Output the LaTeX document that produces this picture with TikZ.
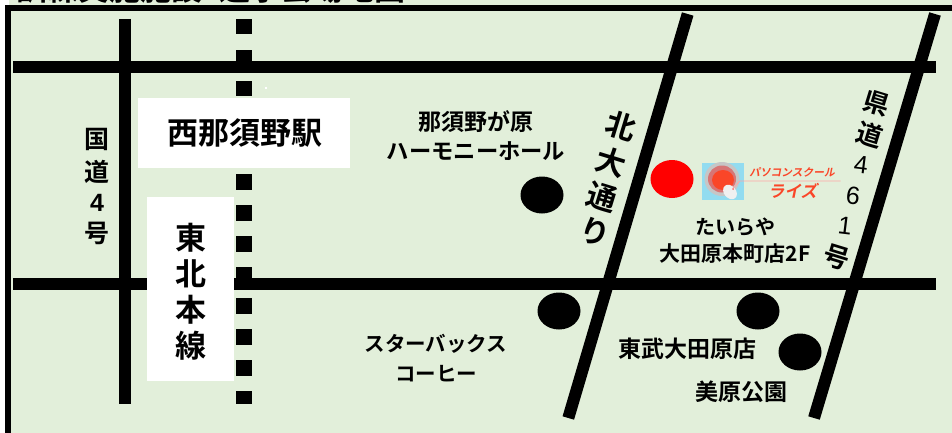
\documentclass[tikz,border=0pt]{standalone}
\usepackage{fontspec}
\setmainfont{Noto Sans CJK JP}[BoldFont={Noto Sans CJK JP Bold}]
\newfontfamily\arialf{Liberation Sans}
\newfontfamily\slantf{Noto Sans CJK JP Bold}[FakeSlant=0.2]
\usetikzlibrary{shapes.geometric}
\definecolor{bggreen}{RGB}{226,239,218}
\definecolor{logosky}{RGB}{146,220,240}
\definecolor{logored}{RGB}{250,70,40}
\tikzset{
  px/.style={x=1pt,y=-1pt},
  road/.style={line width=12pt,black,line cap=butt},
  lbl/.style={font=\bfseries\fontsize{23}{23}\selectfont,inner sep=0pt,text=black},
  vert/.style={font=\bfseries\fontsize{25}{25}\selectfont,inner sep=0pt,text=black},
  slantlbl/.style={font=\bfseries\fontsize{30}{30}\selectfont,inner sep=0pt,text=black,rotate=-17},
  prefl/.style={font=\bfseries\fontsize{26}{26}\selectfont,inner sep=0pt,text=black,rotate=-17},
  prefn/.style={font=\arialf\fontsize{25}{25}\selectfont,inner sep=0pt,text=black,rotate=-7},
  whitebox/.style={fill=white,draw=none},
  spot/.style={ellipse,fill=black,minimum width=43pt,minimum height=37pt,inner sep=0pt},
  tie/.style={fill=black},
}
\begin{document}
\begin{tikzpicture}[px]
\useasboundingbox (0,0) rectangle (952,433);
\fill[white] (0,0) rectangle (952,433);
\fill[bggreen] (9,0) rectangle (952,433);
\node[anchor=base west,inner sep=0pt,font=\bfseries\fontsize{31}{31}\selectfont] (title) at (16,1) {訓練実施施設\hspace{0.55em}通学会場地図};
\fill[black] (5,5) rectangle (952,433);
\fill[bggreen] (11,11) rectangle (952,433);
\coordinate (wa) at (13,67.5); \coordinate (wb) at (935.7,67.5);
\coordinate (ha) at (13,284); \coordinate (hb) at (935.5,284);
\coordinate (ka) at (124.5,19); \coordinate (kb) at (124.5,404);
\coordinate (da) at (687.7,14); \coordinate (db) at (568.3,418);
\coordinate (ea) at (935,14); \coordinate (eb) at (814,418);
\draw[road] (ka) -- (kb);
\draw[road] (wa) -- (wb);
\draw[road] (ha) -- (hb);
\draw[road] (da) -- (db);
\draw[road] (ea) -- (eb);
\foreach \y in {19,50,81,174,205,236,267,298,329,360}
  \fill[tie] (236,\y) rectangle (251.5,\y+15.5);
\fill[tie] (236,391) rectangle (251.5,404);
\fill[white] (265,87) rectangle (267,89);
\node[whitebox,minimum width=212pt,minimum height=70pt] (st) at (244,133) {};
\node[lbl,font=\bfseries\fontsize{31}{31}\selectfont] (stl) at (245,133) {西那須野駅};
\node[whitebox,minimum width=87pt,minimum height=184pt] (line) at (190.5,289) {};
\node[lbl,align=center,font=\bfseries\fontsize{31}{36}\selectfont] (linel) at (191,292) {東\\北\\本\\線};
\node[vert] (ko1) at (97,139) {国};
\node[vert] (ko2) at (97,172) {道};
\node[vert,font=\bfseries\arialf\fontsize{25}{25}\selectfont] (ko3) at (97,203) {4};
\node[vert] (ko4) at (97,233) {号};
\node[lbl] (har1) at (476,122) {那須野が原};
\node[lbl,font=\bfseries\fontsize{22.3}{23}\selectfont] (har2) at (476,151) {ハーモニーホール};
\node[lbl,font=\bfseries\fontsize{20.5}{23}\selectfont] (sta1) at (436,344) {スターバックス};
\node[lbl,font=\bfseries\fontsize{20.5}{23}\selectfont] (sta2) at (436,374) {コーヒー};
\node[lbl] (tob) at (687,349) {東武大田原店};
\node[lbl] (mih) at (741,392) {美原公園};
\node[lbl,font=\bfseries\fontsize{20}{23}\selectfont] (tai1) at (735,227) {たいらや};
\node[lbl,font=\bfseries\fontsize{21}{23}\selectfont] (tai2) at (735,254) {大田原本町店2F};
\node[slantlbl] (ki1) at (621,126) {北};
\node[slantlbl] (ki2) at (611,162) {大};
\node[slantlbl] (ki3) at (602,197) {通};
\node[slantlbl] (ki4) at (595,232) {り};
\node[prefl] (k1) at (877,103) {県};
\node[prefl] (k2) at (870,135) {道};
\node[prefn] (k3) at (861,165) {4};
\node[prefn] (k4) at (853,196) {6};
\node[prefn] (k5) at (845,226) {1};
\node[prefl] (k6) at (837,257) {号};
\node[spot] (s1) at (542,195) {};
\node[spot] (s2) at (559,311) {};
\node[spot] (s3) at (758,311) {};
\node[spot] (s4) at (800,352) {};
\node[ellipse,fill=red,minimum width=43pt,minimum height=38pt,inner sep=0pt] (goal) at (672,179) {};
\fill[logosky] (702.3,162.5) rectangle (744,200);
\fill[gray!45] (722,179) ellipse (17.5pt and 17pt);
\fill[red!55!gray!70] (722,179) ellipse (14pt and 13.5pt);
\fill[logored] (723,180) ellipse (11pt and 10pt);
\fill[gray!12,rotate around={40:(730,192)}] (730,192) ellipse (6pt and 8pt);
\fill[red!60] (733,189) circle (1pt);
\draw[red!35,line width=0.8pt] (733,188) -- (740,181) -- (840.7,181);
\node[inner sep=0pt,text=logored,font=\slantf\fontsize{10.7}{11}\selectfont] (pc) at (792,172) {パソコンスクール};
\node[inner sep=0pt,text=logored,font=\slantf\fontsize{16.5}{17}\selectfont] (rz) at (792.5,191) {ライズ};
\end{tikzpicture}
\end{document}
